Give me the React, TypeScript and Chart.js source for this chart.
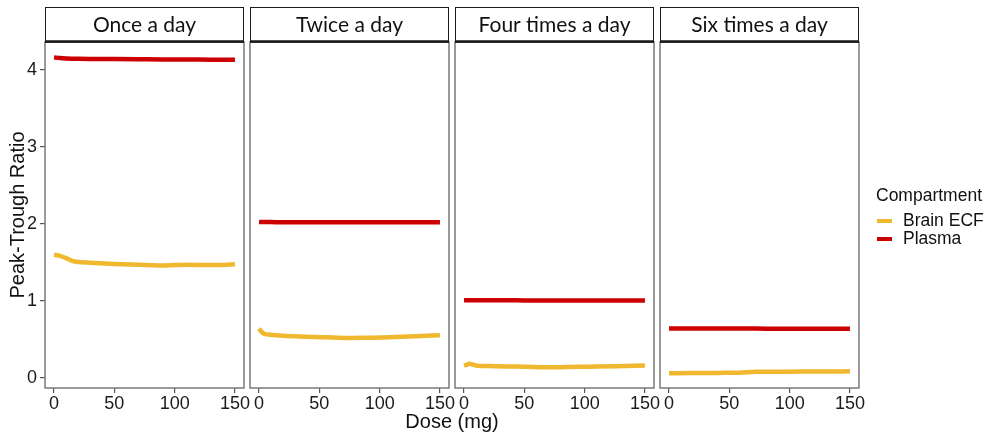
import React, { useEffect, useRef } from "react";
import { Chart, registerables } from "chart.js";

Chart.register(...registerables);

// ---- data ----
const panelTitles = ["Once a day", "Twice a day", "Four times a day", "Six times a day"];
const seriesNames = ["Brain ECF", "Plasma"];
const seriesColors = ["#F0B82E", "#CC0000"];
const xTickValues = [0, 50, 100, 150];
const yTickValues = [0, 1, 2, 3, 4];

const onceDose = [0, 5, 10, 15, 20, 30, 50, 70, 90, 110, 130, 150];
const onceBrain = [1.6, 1.585, 1.556, 1.52, 1.505, 1.495, 1.48, 1.47, 1.46, 1.47, 1.465, 1.475];
const oncePlasma = [4.16, 4.152, 4.147, 4.144, 4.142, 4.14, 4.138, 4.136, 4.134, 4.133, 4.131, 4.13];

const twiceDose = [0, 1, 3, 5, 9, 20, 39, 55, 75, 90, 108, 130, 150];
const twiceBrain = [0.64, 0.62, 0.584, 0.57, 0.562, 0.548, 0.536, 0.528, 0.519, 0.522, 0.527, 0.54, 0.556];
const twicePlasma = [2.025, 2.024, 2.024, 2.023, 2.023, 2.022, 2.022, 2.021, 2.021, 2.02, 2.02, 2.02, 2.02];

const fourDose = [0, 2, 4.5, 8, 11, 20, 35, 50, 70, 85, 103, 125, 150];
const fourBrain = [0.16, 0.17, 0.185, 0.17, 0.16, 0.155, 0.15, 0.147, 0.138, 0.142, 0.147, 0.153, 0.163];
const fourPlasma = [1.01, 1.01, 1.01, 1.01, 1.009, 1.008, 1.008, 1.007, 1.007, 1.006, 1.006, 1.005, 1.005];

const sixDose = [0, 20, 40, 58, 72, 90, 110, 130, 150];
const sixBrain = [0.06, 0.064, 0.066, 0.069, 0.08, 0.082, 0.083, 0.085, 0.086];
const sixPlasma = [0.642, 0.642, 0.641, 0.641, 0.641, 0.64, 0.64, 0.64, 0.64];

const panelDoses = [onceDose, twiceDose, fourDose, sixDose];
const panelBrain = [onceBrain, twiceBrain, fourBrain, sixBrain];
const panelPlasma = [oncePlasma, twicePlasma, fourPlasma, sixPlasma];

// ---- layout ----
const PANEL_LEFTS = [45, 250, 455, 660];
const PANEL_W = 199;
const Y_AXIS_W = 45;
const STRIP_TOP = 7;
const AREA_TOP = 42;
const AREA_BOTTOM = 388;
const X_AXIS_H = 32;
const RIGHT_PAD = 18;
const LEGEND_PAD = 993 - (660 + 199);

const SANS = "'Liberation Sans', Arial, sans-serif";
const STRIP_FONT = "Lato, 'Noto Sans', sans-serif";

function makePlugin(title: string, withLegend: boolean) {
  return {
    id: "facetDecor",
    afterDraw(chart: any) {
      const { ctx, chartArea } = chart;
      const { left, right, top, bottom } = chartArea;
      ctx.save();
      // panel border
      ctx.strokeStyle = "#7a7a7a";
      ctx.lineWidth = 1.5;
      ctx.strokeRect(left, top, right - left, bottom - top);
      // strip
      const sTop = 0.5;
      ctx.fillStyle = "#ffffff";
      ctx.fillRect(left, sTop, right - left, top - sTop);
      ctx.strokeStyle = "#1a1a1a";
      ctx.lineWidth = 1;
      ctx.strokeRect(left + 0.5, sTop, right - left - 1, top - sTop);
      ctx.lineWidth = 2.5;
      ctx.beginPath();
      ctx.moveTo(left, top - 0.5);
      ctx.lineTo(right, top - 0.5);
      ctx.stroke();
      ctx.fillStyle = "#111";
      ctx.font = `21px ${STRIP_FONT}`;
      ctx.textAlign = "center";
      ctx.textBaseline = "middle";
      ctx.fillText(title, (left + right) / 2, (sTop + top) / 2);
      if (withLegend) {
        const lx = right + 17;
        ctx.textAlign = "left";
        ctx.textBaseline = "middle";
        ctx.font = `17.5px ${SANS}`;
        ctx.fillStyle = "#111";
        ctx.fillText("Compartment", lx, 196 - STRIP_TOP);
        const rows = [221 - STRIP_TOP, 239 - STRIP_TOP];
        chart.data.datasets.forEach((ds: any, i: number) => {
          ctx.strokeStyle = ds.borderColor;
          ctx.lineWidth = 4;
          ctx.lineCap = "butt";
          ctx.beginPath();
          ctx.moveTo(lx + 1, rows[i]);
          ctx.lineTo(lx + 16, rows[i]);
          ctx.stroke();
          ctx.fillStyle = "#111";
          ctx.font = `17.5px ${SANS}`;
          ctx.fillText(ds.label, lx + 27, rows[i]);
        });
      }
      ctx.restore();
    },
  };
}

function Panel({ idx }: { idx: number }) {
  const ref = useRef<HTMLCanvasElement>(null);
  const isFirst = idx === 0;
  const isLast = idx === 3;
  const canvasLeft = PANEL_LEFTS[idx] - Y_AXIS_W;
  const rightPad = isLast ? LEGEND_PAD : RIGHT_PAD;
  const width = Y_AXIS_W + PANEL_W + rightPad;
  const height = AREA_BOTTOM + X_AXIS_H - STRIP_TOP;

  useEffect(() => {
    if (!ref.current) return;
    const doses = panelDoses[idx];
    const brain = panelBrain[idx].map((v, i) => ({ x: doses[i], y: v }));
    const plasma = panelPlasma[idx].map((v, i) => ({ x: doses[i], y: v }));
    const chart = new Chart(ref.current, {
      type: "line",
      data: {
        datasets: [
          { label: seriesNames[0], data: brain, borderColor: seriesColors[0], borderWidth: 4.5, pointRadius: 0, cubicInterpolationMode: "monotone" },
          { label: seriesNames[1], data: plasma, borderColor: seriesColors[1], borderWidth: 4.5, pointRadius: 0, cubicInterpolationMode: "monotone" },
        ],
      },
      options: {
        animation: false,
        responsive: false,
        maintainAspectRatio: false,
        devicePixelRatio: 1,
        layout: { padding: { top: AREA_TOP - STRIP_TOP, right: rightPad, left: 0, bottom: 0 } },
        plugins: { legend: { display: false }, tooltip: { enabled: false }, title: { display: false } },
        scales: {
          x: {
            type: "linear",
            min: -7.5,
            max: 157.5,
            afterBuildTicks: (s: any) => { s.ticks = xTickValues.map((v) => ({ value: v })); },
            afterFit: (s: any) => { s.height = X_AXIS_H; },
            border: { display: false },
            grid: { display: true, drawOnChartArea: false, drawTicks: true, tickLength: 5, color: "#555", lineWidth: 1.2 },
            ticks: { font: { family: SANS, size: 18 }, color: "#1a1a1a", padding: 0, maxRotation: 0, autoSkip: false },
          },
          y: {
            type: "linear",
            min: -0.13,
            max: 4.36,
            afterBuildTicks: (s: any) => { s.ticks = yTickValues.map((v) => ({ value: v })); },
            afterFit: (s: any) => { s.width = Y_AXIS_W; },
            border: { display: false },
            grid: { display: isFirst, drawOnChartArea: false, drawTicks: true, tickLength: 5, color: "#555", lineWidth: 1.2 },
            ticks: { display: isFirst, font: { family: SANS, size: 18 }, color: "#1a1a1a", padding: 3 },
            title: {
              display: isFirst,
              text: "Peak-Trough Ratio",
              font: { family: SANS, size: 20 },
              color: "#111",
              padding: { top: 6, bottom: 0 },
            },
          },
        },
      },
      plugins: [makePlugin(panelTitles[idx], isLast)],
    } as any);
    return () => chart.destroy();
  }, [idx]);

  return (
    <canvas
      ref={ref}
      width={width}
      height={height}
      style={{ position: "absolute", left: canvasLeft, top: STRIP_TOP, width, height }}
    />
  );
}

export default function App() {
  return (
    <div style={{ position: "absolute", left: 0, top: 0, width: 993, height: 437, background: "#fff", overflow: "hidden" }}>
      {[0, 1, 2, 3].map((i) => (
        <Panel key={i} idx={i} />
      ))}
      <div
        style={{
          position: "absolute",
          left: 352,
          width: 200,
          top: 409,
          textAlign: "center",
          fontFamily: SANS,
          fontSize: 20,
          lineHeight: "24px",
          color: "#111",
        }}
      >
        Dose (mg)
      </div>
    </div>
  );
}
